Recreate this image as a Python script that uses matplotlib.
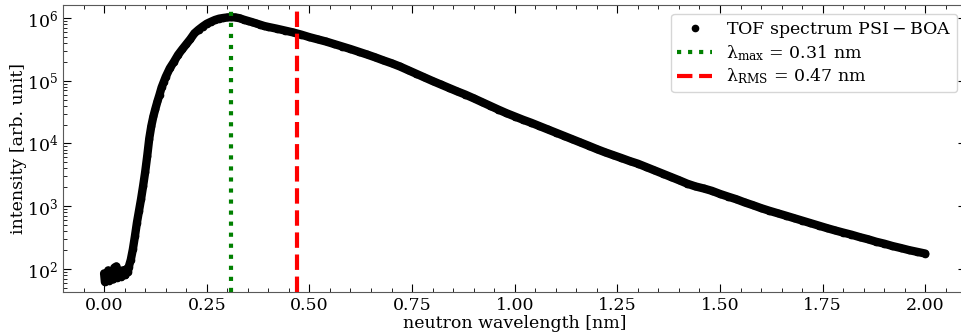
import numpy as np
import matplotlib
matplotlib.use("Agg")
import matplotlib.pyplot as plt

plt.rcParams["font.family"] = ["DejaVu Serif"]
plt.rcParams["mathtext.fontset"] = "dejavuserif"

# wavelength [nm] and intensity
wavelength = [
    0.000, 0.002, 0.005, 0.010, 0.012, 0.015, 0.020, 0.022, 0.025, 0.030,
    0.032, 0.035, 0.040, 0.042, 0.045, 0.050, 0.052, 0.055, 0.058, 0.060,
    0.065, 0.070, 0.075, 0.080, 0.085, 0.090, 0.095, 0.100, 0.105, 0.110,
    0.115, 0.120, 0.125, 0.130, 0.135, 0.140, 0.145, 0.150,
    0.16, 0.17, 0.18, 0.19, 0.20, 0.21, 0.22, 0.23, 0.24, 0.25,
    0.26, 0.27, 0.28, 0.29, 0.30, 0.31, 0.32, 0.33, 0.34, 0.35,
    0.36, 0.37, 0.38, 0.39, 0.40,
    0.42, 0.44, 0.46, 0.48, 0.50, 0.52, 0.54, 0.56, 0.58, 0.60,
    0.62, 0.64, 0.66, 0.68, 0.70, 0.72, 0.74, 0.76, 0.78, 0.80,
    0.82, 0.84, 0.86, 0.88, 0.90, 0.92, 0.94, 0.96, 0.98, 1.00,
    1.02, 1.04, 1.06, 1.08, 1.10, 1.12, 1.14, 1.16, 1.18, 1.20,
    1.22, 1.24, 1.26, 1.28, 1.30, 1.32, 1.34, 1.36, 1.38, 1.40,
    1.42, 1.44, 1.46, 1.48, 1.50, 1.52, 1.54, 1.56, 1.58, 1.60,
    1.62, 1.64, 1.66, 1.68, 1.70, 1.72, 1.74, 1.76, 1.78, 1.80,
    1.82, 1.84, 1.86, 1.88, 1.90, 1.92, 1.94, 1.96, 1.98, 2.00,
]
intensity = [
    85, 62, 70, 95, 65, 75, 82, 68, 105, 110,
    72, 78, 88, 75, 95, 85, 80, 100, 90, 108,
    140, 205, 330, 550, 850, 1300, 2100, 3500, 6300, 12000,
    19000, 27000, 36000, 47000, 60000, 78000, 95000, 115000,
    158000, 200000, 258000, 315000, 380000, 460000, 570000, 650000, 730000, 810000,
    870000, 930000, 975000, 1000000, 1020000, 1030000, 1020000, 990000, 940000, 900000,
    860000, 820000, 780000, 745000, 720000,
    676000, 631000, 589000, 543000, 495000, 457000, 422000, 385000, 351000, 320000,
    290000, 262000, 236000, 211000, 190000, 169000, 148000, 130000, 113000, 98900,
    87100, 76700, 67600, 60000, 52500, 45700, 39800, 34700, 30400, 26900,
    23900, 21400, 19000, 16800, 14900, 13200, 11700, 10400, 9200, 8130,
    7240, 6520, 5860, 5250, 4760, 4220, 3730, 3310, 2940, 2600,
    2290, 2070, 1920, 1760, 1570, 1420, 1290, 1150, 1040, 933,
    847, 776, 708, 646, 589, 537, 492, 449, 412, 380,
    352, 322, 298, 272, 253, 232, 216, 200, 188, 176,
]

lambda_max = 0.31
lambda_rms = 0.47

fig = plt.figure(figsize=(9.61, 3.33), dpi=100)
ax = fig.add_axes([0.0656, 0.123, 0.94, 0.862])

x = np.array(wavelength)
y = np.array(intensity)
ax.plot(x, y, "-", color="black", lw=6, solid_capstyle="round", zorder=2)
ax.plot(x, y, "o", color="black", ms=4.5, lw=0, label=r"$\mathrm{TOF\ spectrum\ PSI - BOA}$", zorder=3)

ax.axvline(lambda_max, color="green", ls=":", lw=3, label=r"λ$_{\mathrm{max}}$ = 0.31 nm", zorder=4)
ax.axvline(lambda_rms, color="red", ls="--", lw=3, label=r"λ$_{\mathrm{RMS}}$ = 0.47 nm", zorder=4)

ax.set_yscale("log")
ax.set_xlim(-0.1, 2.1)
ax.set_ylim(42.9, 1.61e6)
ax.set_xticks([0.0, 0.25, 0.5, 0.75, 1.0, 1.25, 1.5, 1.75, 2.0])
ax.xaxis.set_minor_locator(matplotlib.ticker.MultipleLocator(0.05))

ax.set_xlabel("neutron wavelength [nm]", fontsize=12.5, labelpad=1)
ax.set_ylabel("intensity [arb. unit]", fontsize=12.5, labelpad=0)
ax.tick_params(which="both", direction="in", top=True, right=True, labelsize=12.5)
ax.tick_params(which="major", length=6)
ax.tick_params(which="minor", length=3)
for s in ax.spines.values():
    s.set_color("0.35")

ax.legend(loc="upper right", fontsize=12.5, handlelength=2, labelspacing=0.2,
          borderpad=0.35, borderaxespad=0,
          bbox_to_anchor=(0.996, 0.958), bbox_transform=fig.transFigure)

fig.savefig("out.png", dpi=100)
